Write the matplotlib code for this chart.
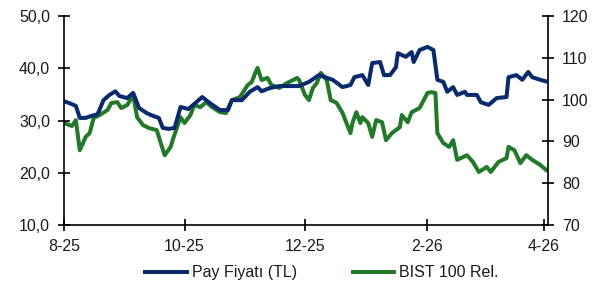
import pandas as pd
import matplotlib
matplotlib.use("Agg")
import matplotlib.pyplot as plt

plt.rcParams['font.family'] = ['Liberation Sans', 'DejaVu Sans']

# Pay Fiyatı (TL) - left axis
pay_dates = ["2025-08-01", "2025-08-04", "2025-08-07", "2025-08-09", "2025-08-12", "2025-08-15",
             "2025-08-18", "2025-08-21", "2025-08-24", "2025-08-27", "2025-08-29", "2025-09-02",
             "2025-09-05", "2025-09-08", "2025-09-12", "2025-09-15", "2025-09-18", "2025-09-20",
             "2025-09-23", "2025-09-26", "2025-09-29", "2025-10-03", "2025-10-06", "2025-10-10",
             "2025-10-14", "2025-10-19", "2025-10-23", "2025-10-25", "2025-10-30", "2025-11-03",
             "2025-11-07", "2025-11-09", "2025-11-13", "2025-11-18", "2025-11-23", "2025-11-28",
             "2025-12-03", "2025-12-08", "2025-12-15", "2025-12-20", "2025-12-24", "2025-12-26",
             "2025-12-30", "2026-01-02", "2026-01-04", "2026-01-08", "2026-01-10", "2026-01-13",
             "2026-01-16", "2026-01-17", "2026-01-21", "2026-01-24", "2026-01-25", "2026-01-28",
             "2026-02-01", "2026-02-04", "2026-02-06", "2026-02-09", "2026-02-11", "2026-02-14",
             "2026-02-16", "2026-02-20", "2026-02-21", "2026-02-26", "2026-02-28", "2026-03-04",
             "2026-03-08", "2026-03-13", "2026-03-14", "2026-03-18", "2026-03-21", "2026-03-24",
             "2026-03-26", "2026-03-30", "2026-04-03"]
pay = [33.7, 33.3, 32.8, 30.5, 30.5, 30.9,
       31.2, 33.9, 34.9, 35.6, 34.7, 34.3,
       35.3, 32.4, 31.4, 30.9, 30.5, 28.6,
       28.4, 28.6, 32.6, 32.2, 33.2, 34.5,
       33.3, 32.0, 32.0, 33.9, 33.9, 35.5,
       36.4, 35.6, 36.2, 36.6, 36.6, 36.6,
       37.4, 38.7, 37.8, 36.4, 36.8, 38.3,
       38.7, 36.8, 41.0, 41.2, 38.7, 38.7,
       40.2, 42.9, 42.2, 43.1, 41.2, 43.5,
       44.1, 43.5, 37.8, 37.4, 35.5, 36.4,
       34.9, 35.5, 34.9, 34.9, 33.5, 33.0,
       34.3, 34.5, 38.3, 38.7, 37.8, 39.3,
       38.3, 37.8, 37.4]

# BIST 100 Rel. - right axis
rel_dates = ["2025-08-01", "2025-08-05", "2025-08-07", "2025-08-09", "2025-08-12", "2025-08-14",
             "2025-08-16", "2025-08-19", "2025-08-23", "2025-08-25", "2025-08-28", "2025-08-30",
             "2025-09-02", "2025-09-05", "2025-09-07", "2025-09-10", "2025-09-13", "2025-09-17",
             "2025-09-19", "2025-09-21", "2025-09-24", "2025-09-25", "2025-09-29", "2025-10-01",
             "2025-10-04", "2025-10-06", "2025-10-09", "2025-10-12", "2025-10-15", "2025-10-19",
             "2025-10-22", "2025-10-25", "2025-10-29", "2025-11-02", "2025-11-04", "2025-11-06",
             "2025-11-07", "2025-11-09", "2025-11-12", "2025-11-14", "2025-11-18", "2025-11-22",
             "2025-11-25", "2025-11-27", "2025-11-28", "2025-12-01", "2025-12-03", "2025-12-05",
             "2025-12-07", "2025-12-09", "2025-12-12", "2025-12-14", "2025-12-17", "2025-12-20",
             "2025-12-24", "2025-12-25", "2025-12-27", "2025-12-29", "2025-12-30", "2026-01-02",
             "2026-01-04", "2026-01-06", "2026-01-09", "2026-01-11", "2026-01-14", "2026-01-18",
             "2026-01-19", "2026-01-22", "2026-01-24", "2026-01-28", "2026-02-01", "2026-02-03",
             "2026-02-05", "2026-02-06", "2026-02-09", "2026-02-12", "2026-02-14", "2026-02-16",
             "2026-02-21", "2026-02-24", "2026-02-27", "2026-03-03", "2026-03-05", "2026-03-09",
             "2026-03-13", "2026-03-14", "2026-03-17", "2026-03-20", "2026-03-23", "2026-03-26",
             "2026-03-30", "2026-04-02"]
rel = [94.4, 93.7, 95.1, 87.9, 91.1, 92.0,
       95.6, 96.3, 97.5, 99.2, 99.4, 98.0,
       98.7, 101.1, 95.8, 93.9, 93.2, 92.7,
       89.6, 86.7, 88.7, 90.3, 95.8, 94.4,
       96.3, 98.7, 98.2, 99.4, 98.2, 97.0,
       96.8, 99.9, 100.6, 103.5, 104.2, 106.6,
       107.6, 104.7, 105.2, 103.5, 102.8, 104.0,
       104.7, 105.2, 104.7, 101.1, 99.9, 102.8,
       104.0, 106.4, 104.7, 99.9, 99.2, 96.8,
       92.0, 94.4, 97.0, 94.4, 95.8, 94.4,
       91.1, 95.1, 94.6, 90.3, 92.0, 93.4,
       96.3, 94.6, 97.0, 98.0, 101.6, 101.8,
       101.6, 92.0, 89.6, 88.7, 90.3, 85.6,
       86.7, 85.1, 82.7, 83.9, 82.7, 85.1,
       86.0, 88.7, 87.9, 84.8, 86.7, 85.6,
       84.4, 83.2]

x_ticks = ["2025-08-01", "2025-10-01", "2025-12-01", "2026-02-01", "2026-04-01"]
x_labels = ["8-25", "10-25", "12-25", "2-26", "4-26"]
left_ticks = [10, 20, 30, 40, 50]
left_labels = ["10,0", "20,0", "30,0", "40,0", "50,0"]
right_ticks = [70, 80, 90, 100, 110, 120]

blue = "#0a2a6e"
green = "#23792a"
txt = "#1a1a1a"
fs = 11.5

fig = plt.figure(figsize=(6.06, 2.87), dpi=100)
ax = fig.add_axes([0.1056, 0.216, 0.7987, 0.728])
ax2 = ax.twinx()

l1, = ax.plot(pd.to_datetime(pay_dates), pay, color=blue, lw=2.9, label="Pay Fiyatı (TL)",
              solid_joinstyle="round")
l2, = ax2.plot(pd.to_datetime(rel_dates), rel, color=green, lw=2.9, label="BIST 100 Rel.",
               solid_joinstyle="round")
ax.set_zorder(ax2.get_zorder() + 1)
ax.patch.set_visible(False)

ax.set_xlim(pd.Timestamp("2025-08-01"), pd.Timestamp("2026-04-03"))
ax.set_ylim(10, 50)
ax2.set_ylim(70, 120)

ax.set_xticks(pd.to_datetime(x_ticks))
ax.set_xticklabels(x_labels)
ax.set_yticks(left_ticks)
ax.set_yticklabels(left_labels)
ax2.set_yticks(right_ticks)

for a in (ax, ax2):
    a.spines["top"].set_visible(False)
    for s in a.spines.values():
        s.set_linewidth(1.2)
        s.set_color("black")
ax.spines["right"].set_visible(False)
ax2.spines["left"].set_visible(False)
ax2.spines["bottom"].set_visible(False)

ax.tick_params(axis="both", direction="inout", length=8, width=1.2, labelsize=fs,
               labelcolor=txt)
ax.tick_params(axis="x", pad=6)
ax.tick_params(axis="y", pad=6)
ax2.tick_params(axis="y", direction="inout", length=8, width=1.2, labelsize=fs,
                labelcolor=txt, pad=6)

fig.legend(handles=[l1, l2], loc="center", bbox_to_anchor=(0.531, 0.049), ncol=2,
           frameon=False, fontsize=fs, handlelength=2.6, handletextpad=0.3,
           columnspacing=3.5, labelcolor=txt)

fig.savefig("out.png", dpi=100)
